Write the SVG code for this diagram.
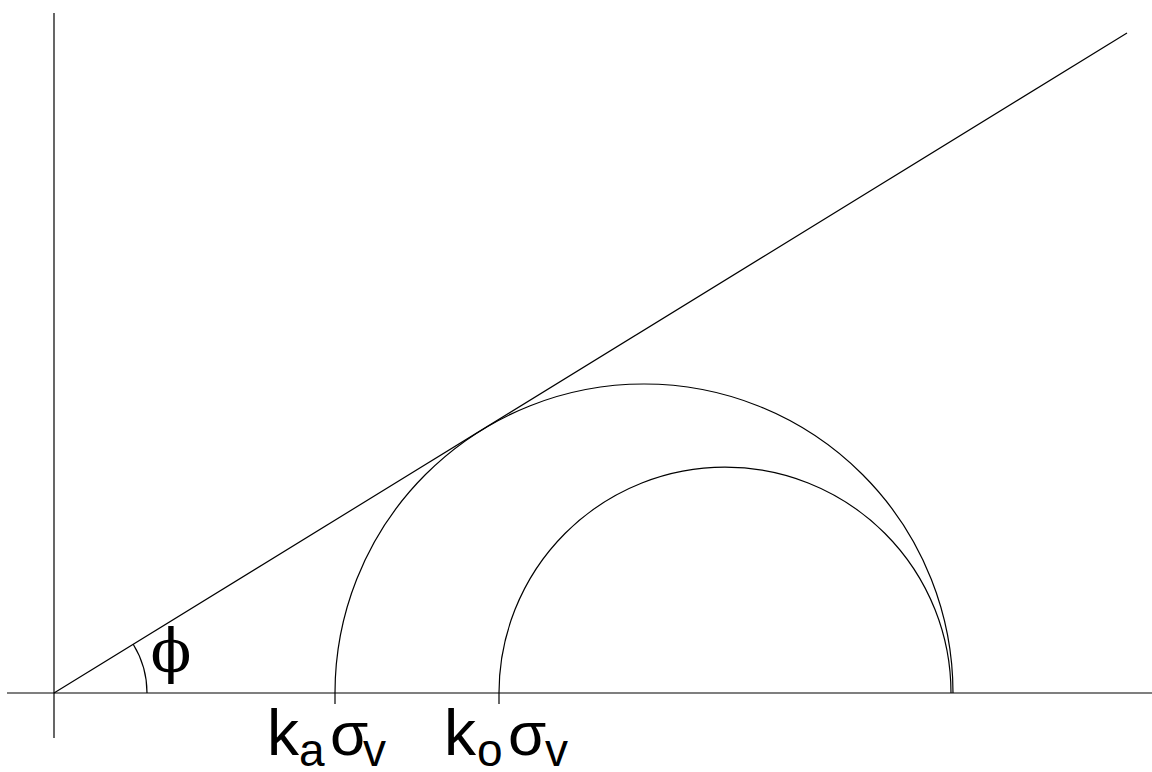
<svg xmlns="http://www.w3.org/2000/svg" width="1152" height="772" viewBox="0 0 1152 772">
<style>
.ln{stroke:#000;stroke-width:1.2;fill:none}
.big{font-family:"Liberation Sans",Arial,sans-serif;font-size:64px;fill:#000}
.sub{font-family:"Liberation Sans",Arial,sans-serif;font-size:46px;fill:#000}
.sig{font-family:"Liberation Sans",Arial,sans-serif;font-size:62px;fill:#000}
.phi{font-family:"DejaVu Serif","Liberation Serif",serif;font-size:60px;fill:#000}
</style>
<rect width="1152" height="772" fill="#fff"/>
<g id="axes">
<line class="ln" x1="54" y1="13" x2="54" y2="738"/>
<line class="ln" x1="7" y1="693" x2="1152" y2="693"/>
</g>
<g id="connectors">
<line class="ln" x1="54" y1="693" x2="1127" y2="33"/>
<path class="ln" d="M133.2,644.3 A93,93 0 0 1 147,693"/>
</g>
<g id="circle-a">
<path class="ln" d="M335,693 A309,309 0 0 1 953,693"/>
<line class="ln" x1="335" y1="693" x2="335" y2="704"/>
</g>
<g id="circle-o">
<path class="ln" d="M499,693 A226,226 0 0 1 951,693"/>
<line class="ln" x1="499" y1="693" x2="499" y2="704"/>
</g>
<g id="labels">
<text class="phi" x="171" y="672" text-anchor="middle">ϕ</text>
<text class="big" x="267" y="755">k</text>
<text class="sub" x="299" y="766">a</text>
<text class="sig" x="330" y="755">σ</text>
<text class="sub" x="363" y="766">v</text>
<text class="big" x="444" y="755">k</text>
<text class="sub" x="477" y="766">o</text>
<text class="sig" x="508" y="755">σ</text>
<text class="sub" x="545" y="766">v</text>
</g>
</svg>
